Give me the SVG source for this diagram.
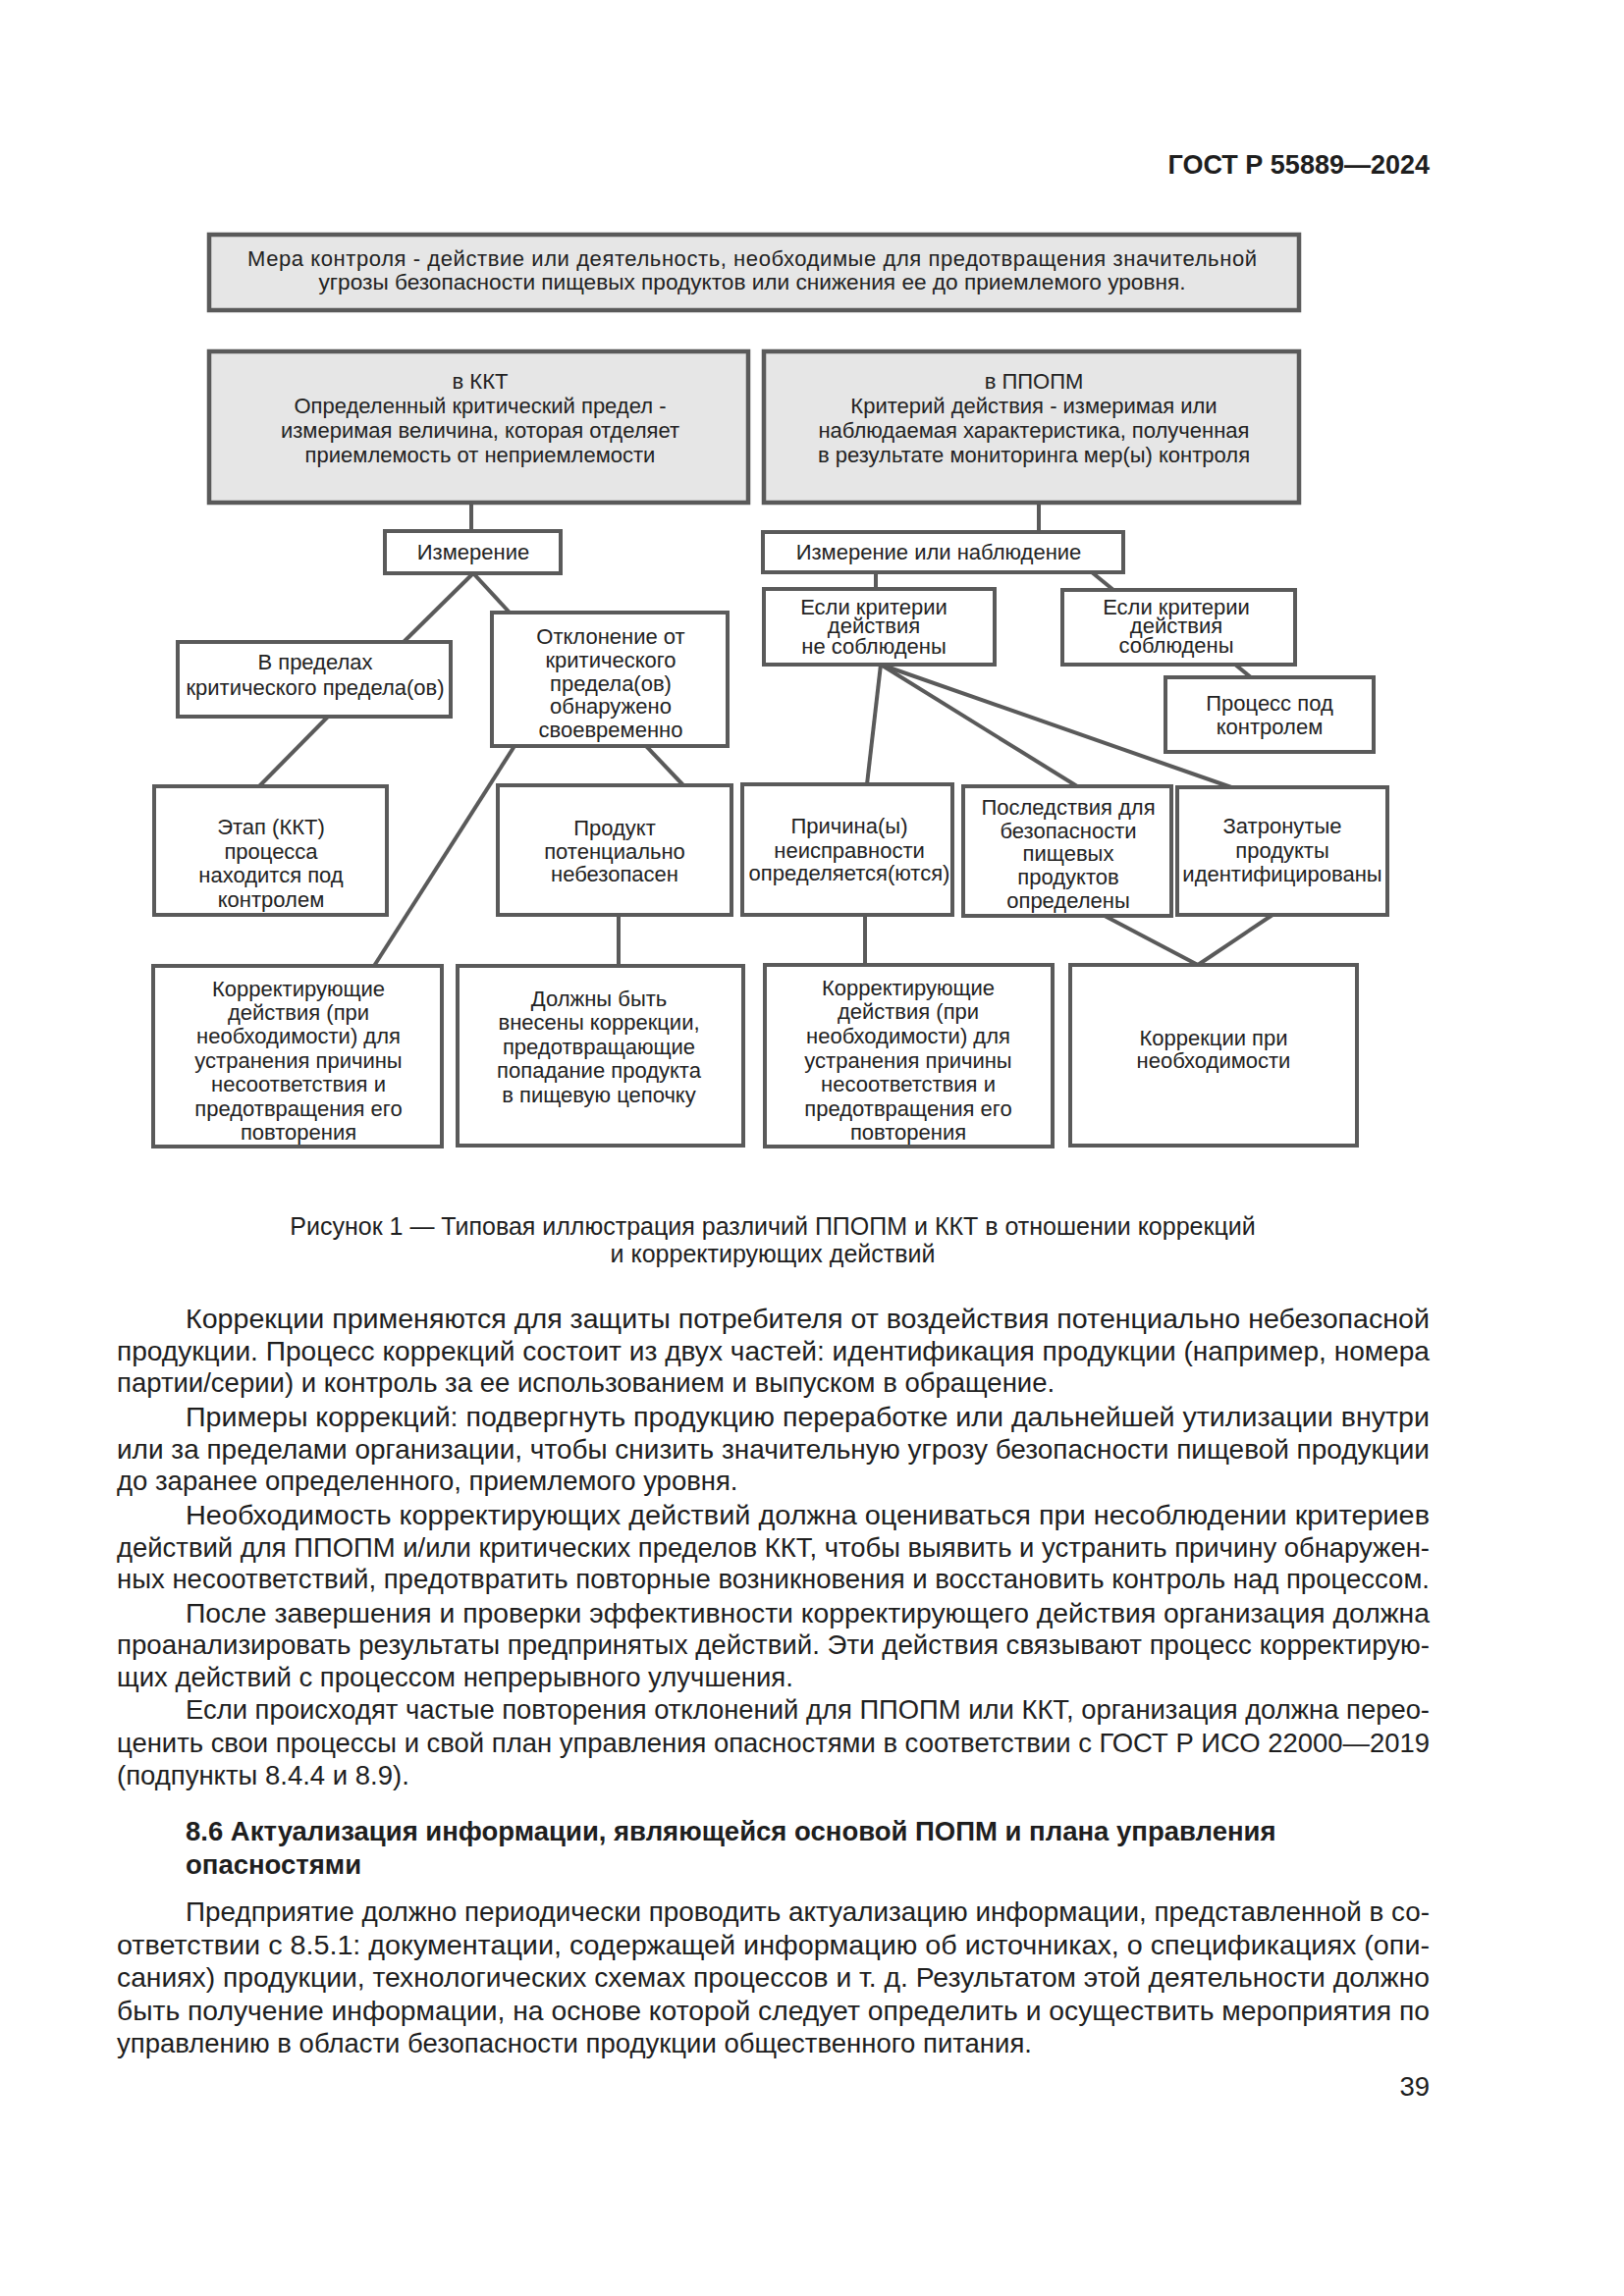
<svg xmlns="http://www.w3.org/2000/svg" width="1654" height="2339" viewBox="0 0 1654 2339">
<style>
.bg{fill:#ffffff}
.box{fill:#ffffff;stroke:#5a5a5a;stroke-width:4}
.gbox{fill:#e6e6e6;stroke:#5a5a5a;stroke-width:4.5}
.t{font-family:"Liberation Sans",Arial,sans-serif;font-size:22px;fill:#222;text-anchor:middle}
.body{font-family:"Liberation Sans",Arial,sans-serif;font-size:27.5px;fill:#1e1e1e}
.hb{font-family:"Liberation Sans",Arial,sans-serif;font-size:27.5px;font-weight:bold;fill:#1e1e1e}
.cap{font-family:"Liberation Sans",Arial,sans-serif;font-size:25px;fill:#1e1e1e;text-anchor:middle}
.hdr{font-family:"Liberation Sans",Arial,sans-serif;font-size:27px;font-weight:bold;fill:#1e1e1e;text-anchor:end}
#connectors line{stroke:#5a5a5a;stroke-width:4;stroke-linecap:butt}
</style>
<rect class="bg" x="0" y="0" width="1654" height="2339"/>
<text class="hdr" x="1456" y="177">ГОСТ Р 55889—2024</text>

<g id="connectors">
<line x1="480" y1="512" x2="480" y2="541"/>
<line x1="1058" y1="512" x2="1058" y2="542"/>
<line x1="482" y1="584" x2="411" y2="654"/>
<line x1="482" y1="584" x2="519" y2="624"/>
<line x1="334" y1="730" x2="264" y2="801"/>
<line x1="658" y1="760" x2="696" y2="800"/>
<line x1="524" y1="760" x2="381" y2="984"/>
<line x1="630" y1="932" x2="630" y2="984"/>
<line x1="892" y1="583" x2="892" y2="600"/>
<line x1="1112" y1="583" x2="1134" y2="601"/>
<line x1="1258" y1="677" x2="1274" y2="690"/>
<line x1="897" y1="677" x2="883" y2="799"/>
<line x1="897" y1="677" x2="1097" y2="801"/>
<line x1="897" y1="677" x2="1254" y2="802"/>
<line x1="881" y1="932" x2="881" y2="983"/>
<line x1="1125" y1="933" x2="1220" y2="983"/>
<line x1="1296" y1="932" x2="1220" y2="983"/>
</g>

<g id="n-top">
<rect class="gbox" x="213" y="239" width="1110" height="77"/>
<text class="t"><tspan x="766" y="271" textLength="1028" lengthAdjust="spacing">Мера контроля - действие или деятельность,  необходимые  для  предотвращения значительной</tspan><tspan x="766" y="295" textLength="883" lengthAdjust="spacingAndGlyphs">угрозы безопасности пищевых продуктов или снижения ее до приемлемого уровня.</tspan></text>
</g>
<g id="n-kkt">
<rect class="gbox" x="213" y="358" width="549" height="154"/>
<text class="t"><tspan x="489" y="396">в ККТ</tspan><tspan x="489" y="421">Определенный критический предел -</tspan><tspan x="489" y="446">измеримая величина, которая отделяет</tspan><tspan x="489" y="471">приемлемость от неприемлемости</tspan></text>
</g>
<g id="n-ppopm">
<rect class="gbox" x="778" y="358" width="545" height="154"/>
<text class="t"><tspan x="1053" y="396">в ППОПМ</tspan><tspan x="1053" y="421">Критерий действия - измеримая или</tspan><tspan x="1053" y="446">наблюдаемая характеристика, полученная</tspan><tspan x="1053" y="471">в результате мониторинга мер(ы) контроля</tspan></text>
</g>
<g id="n-izm">
<rect class="box" x="392" y="541" width="179" height="43"/>
<text class="t" x="482" y="570">Измерение</text>
</g>
<g id="n-vpred">
<rect class="box" x="181" y="654" width="278" height="76"/>
<text class="t"><tspan x="321" y="682">В пределах</tspan><tspan x="321" y="708">критического предела(ов)</tspan></text>
</g>
<g id="n-otkl">
<rect class="box" x="501" y="624" width="240" height="136"/>
<text class="t"><tspan x="622" y="656">Отклонение от</tspan><tspan x="622" y="680">критического</tspan><tspan x="622" y="704">предела(ов)</tspan><tspan x="622" y="727">обнаружено</tspan><tspan x="622" y="751">своевременно</tspan></text>
</g>
<g id="n-etap">
<rect class="box" x="157" y="801" width="237" height="131"/>
<text class="t"><tspan x="276" y="850">Этап (ККТ)</tspan><tspan x="276" y="875">процесса</tspan><tspan x="276" y="899">находится под</tspan><tspan x="276" y="924">контролем</tspan></text>
</g>
<g id="n-prod">
<rect class="box" x="507" y="800" width="238" height="132"/>
<text class="t"><tspan x="626" y="851">Продукт</tspan><tspan x="626" y="875">потенциально</tspan><tspan x="626" y="898">небезопасен</tspan></text>
</g>
<g id="n-korr1">
<rect class="box" x="156" y="984" width="294" height="184"/>
<text class="t"><tspan x="304" y="1015">Корректирующие</tspan><tspan x="304" y="1039">действия (при</tspan><tspan x="304" y="1063">необходимости) для</tspan><tspan x="304" y="1088">устранения причины</tspan><tspan x="304" y="1112">несоответствия и</tspan><tspan x="304" y="1137">предотвращения его</tspan><tspan x="304" y="1161">повторения</tspan></text>
</g>
<g id="n-dolzhny">
<rect class="box" x="466" y="984" width="291" height="183"/>
<text class="t"><tspan x="610" y="1025">Должны быть</tspan><tspan x="610" y="1049">внесены коррекции,</tspan><tspan x="610" y="1074">предотвращающие</tspan><tspan x="610" y="1098">попадание продукта</tspan><tspan x="610" y="1123">в пищевую цепочку</tspan></text>
</g>
<g id="n-izmnab">
<rect class="box" x="777" y="542" width="367" height="41"/>
<text class="t" x="956" y="570">Измерение или наблюдение</text>
</g>
<g id="n-nesobl">
<rect class="box" x="778" y="600" width="235" height="77"/>
<text class="t"><tspan x="890" y="626">Если критерии</tspan><tspan x="890" y="645">действия</tspan><tspan x="890" y="666">не соблюдены</tspan></text>
</g>
<g id="n-sobl">
<rect class="box" x="1082" y="601" width="237" height="76"/>
<text class="t"><tspan x="1198" y="626">Если критерии</tspan><tspan x="1198" y="645">действия</tspan><tspan x="1198" y="665">соблюдены</tspan></text>
</g>
<g id="n-process">
<rect class="box" x="1187" y="690" width="212" height="76"/>
<text class="t"><tspan x="1293" y="724">Процесс под</tspan><tspan x="1293" y="748">контролем</tspan></text>
</g>
<g id="n-prichina">
<rect class="box" x="756" y="799" width="214" height="133"/>
<text class="t"><tspan x="865" y="849">Причина(ы)</tspan><tspan x="865" y="874">неисправности</tspan><tspan x="865" y="897">определяется(ются)</tspan></text>
</g>
<g id="n-posl">
<rect class="box" x="981" y="801" width="212" height="132"/>
<text class="t"><tspan x="1088" y="830">Последствия для</tspan><tspan x="1088" y="854">безопасности</tspan><tspan x="1088" y="877">пищевых</tspan><tspan x="1088" y="901">продуктов</tspan><tspan x="1088" y="925">определены</tspan></text>
</g>
<g id="n-zatr">
<rect class="box" x="1199" y="802" width="214" height="130"/>
<text class="t"><tspan x="1306" y="849">Затронутые</tspan><tspan x="1306" y="874">продукты</tspan><tspan x="1306" y="898">идентифицированы</tspan></text>
</g>
<g id="n-korr2">
<rect class="box" x="779" y="983" width="293" height="185"/>
<text class="t"><tspan x="925" y="1014">Корректирующие</tspan><tspan x="925" y="1038">действия (при</tspan><tspan x="925" y="1063">необходимости) для</tspan><tspan x="925" y="1088">устранения причины</tspan><tspan x="925" y="1112">несоответствия и</tspan><tspan x="925" y="1137">предотвращения его</tspan><tspan x="925" y="1161">повторения</tspan></text>
</g>
<g id="n-korrekcii">
<rect class="box" x="1090" y="983" width="292" height="184"/>
<text class="t"><tspan x="1236" y="1065">Коррекции при</tspan><tspan x="1236" y="1088">необходимости</tspan></text>
</g>

<text class="cap"><tspan x="787" y="1258">Рисунок 1 — Типовая иллюстрация различий ППОПМ и ККТ в отношении коррекций</tspan><tspan x="787" y="1286">и корректирующих действий</tspan></text>

<g id="body">
<text class="body" x="189" y="1353" textLength="1267" lengthAdjust="spacingAndGlyphs">Коррекции применяются для защиты потребителя от воздействия потенциально небезопасной</text>
<text class="body" x="119" y="1386" textLength="1337" lengthAdjust="spacingAndGlyphs">продукции. Процесс коррекций состоит из двух частей: идентификация продукции (например, номера</text>
<text class="body" x="119" y="1418">партии/серии) и контроль за ее использованием и выпуском в обращение.</text>
<text class="body" x="189" y="1453" textLength="1267" lengthAdjust="spacingAndGlyphs">Примеры коррекций: подвергнуть продукцию переработке или дальнейшей утилизации внутри</text>
<text class="body" x="119" y="1486" textLength="1337" lengthAdjust="spacingAndGlyphs">или за пределами организации, чтобы снизить значительную угрозу безопасности пищевой продукции</text>
<text class="body" x="119" y="1518">до заранее определенного, приемлемого уровня.</text>
<text class="body" x="189" y="1553" textLength="1267" lengthAdjust="spacingAndGlyphs">Необходимость корректирующих действий должна оцениваться при несоблюдении критериев</text>
<text class="body" x="119" y="1586" textLength="1337" lengthAdjust="spacingAndGlyphs">действий для ППОПМ и/или критических пределов ККТ, чтобы выявить и устранить причину обнаружен-</text>
<text class="body" x="119" y="1618" textLength="1337" lengthAdjust="spacingAndGlyphs">ных несоответствий, предотвратить повторные возникновения и восстановить контроль над процессом.</text>
<text class="body" x="189" y="1653" textLength="1267" lengthAdjust="spacingAndGlyphs">После завершения и проверки эффективности корректирующего действия организация должна</text>
<text class="body" x="119" y="1685" textLength="1337" lengthAdjust="spacingAndGlyphs">проанализировать результаты предпринятых действий. Эти действия связывают процесс корректирую-</text>
<text class="body" x="119" y="1718">щих действий с процессом непрерывного улучшения.</text>
<text class="body" x="189" y="1751" textLength="1267" lengthAdjust="spacingAndGlyphs">Если происходят частые повторения отклонений для ППОПМ или ККТ, организация должна перео-</text>
<text class="body" x="119" y="1785" textLength="1337" lengthAdjust="spacingAndGlyphs">ценить свои процессы и свой план управления опасностями в соответствии с ГОСТ Р ИСО 22000—2019</text>
<text class="body" x="119" y="1818">(подпункты 8.4.4 и 8.9).</text>
<text class="hb" x="189" y="1875">8.6 Актуализация информации, являющейся основой ПОПМ и плана управления</text>
<text class="hb" x="189" y="1909">опасностями</text>
<text class="body" x="189" y="1957" textLength="1267" lengthAdjust="spacingAndGlyphs">Предприятие должно периодически проводить актуализацию информации, представленной в со-</text>
<text class="body" x="119" y="1991" textLength="1337" lengthAdjust="spacingAndGlyphs">ответствии с 8.5.1: документации, содержащей информацию об источниках, о спецификациях (опи-</text>
<text class="body" x="119" y="2024" textLength="1337" lengthAdjust="spacingAndGlyphs">саниях) продукции, технологических схемах процессов и т. д. Результатом этой деятельности должно</text>
<text class="body" x="119" y="2058" textLength="1337" lengthAdjust="spacingAndGlyphs">быть получение информации, на основе которой следует определить и осуществить мероприятия по</text>
<text class="body" x="119" y="2091">управлению в области безопасности продукции общественного питания.</text>
<text class="body" x="1456" y="2135" text-anchor="end">39</text>
</g>
</svg>
